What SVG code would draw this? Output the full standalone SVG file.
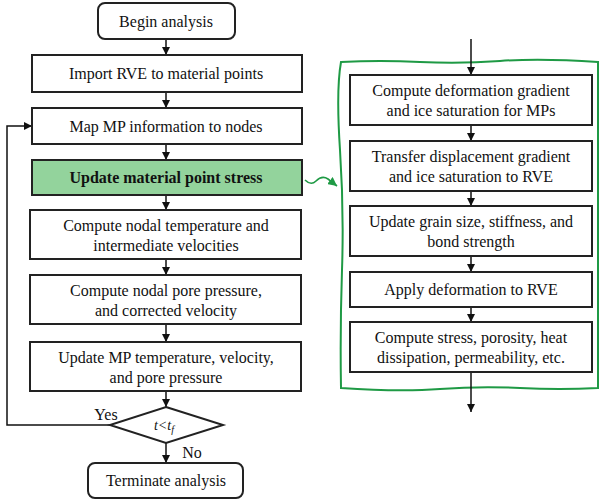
<svg xmlns="http://www.w3.org/2000/svg" width="599" height="502" viewBox="0 0 599 502">
<defs>
<style>
.box{fill:#fff;stroke:#222;stroke-width:2}
.hl{fill:#93d39c;stroke:#222;stroke-width:2}
.ln{stroke:#111;stroke-width:1.5;fill:none}
</style>
<marker id="ah" viewBox="0 0 10 10" refX="10" refY="5" markerWidth="8" markerHeight="8" markerUnits="userSpaceOnUse" orient="auto">
<path d="M0,0 L10,5 L0,10 Z" fill="#111"/>
</marker>
<marker id="gh" viewBox="0 0 10 10" refX="10" refY="5" markerWidth="9" markerHeight="9" markerUnits="userSpaceOnUse" orient="auto">
<path d="M0,0 L10,5 L0,10 Z" fill="#1f9a45"/>
</marker>
</defs>
<rect width="599" height="502" fill="#fff"/>

<g id="frame">
<path d="M341,62 Q380,60 420,62 T500,61 T598,62 L598,388 Q560,390 520,388 T440,389 T341,388 Q340,330 342,270 T340,150 T341,62 Z" fill="none" stroke="#1f9a45" stroke-width="2"/>
</g>

<g id="connectors">
<line class="ln" x1="166" y1="39" x2="166" y2="55" marker-end="url(#ah)"/>
<line class="ln" x1="166" y1="92" x2="166" y2="108" marker-end="url(#ah)"/>
<line class="ln" x1="166" y1="144" x2="166" y2="160" marker-end="url(#ah)"/>
<line class="ln" x1="166" y1="195" x2="166" y2="210" marker-end="url(#ah)"/>
<line class="ln" x1="166" y1="259" x2="166" y2="275" marker-end="url(#ah)"/>
<line class="ln" x1="166" y1="324" x2="166" y2="342" marker-end="url(#ah)"/>
<line class="ln" x1="166" y1="391" x2="166" y2="407" marker-end="url(#ah)"/>
<line class="ln" x1="166" y1="443" x2="166" y2="463" marker-end="url(#ah)"/>
<polyline class="ln" points="110,425 7,425 7,126 32,126" marker-end="url(#ah)"/>
<line class="ln" x1="471" y1="39" x2="471" y2="75" marker-end="url(#ah)"/>
<line class="ln" x1="471" y1="125" x2="471" y2="141" marker-end="url(#ah)"/>
<line class="ln" x1="471" y1="191" x2="471" y2="206" marker-end="url(#ah)"/>
<line class="ln" x1="471" y1="256" x2="471" y2="272" marker-end="url(#ah)"/>
<line class="ln" x1="471" y1="307" x2="471" y2="322" marker-end="url(#ah)"/>
<line class="ln" x1="471" y1="372" x2="471" y2="412" marker-end="url(#ah)"/>
<path d="M305,180 Q311,186 316,181 Q322,175 328,179 L337,186" fill="none" stroke="#1f9a45" stroke-width="1.6" marker-end="url(#gh)"/>
</g>

<g font-family="Liberation Serif, Times New Roman, serif" font-size="16" fill="#111" text-anchor="middle">
<g id="begin"><rect class="box" x="98" y="3" width="137" height="36" rx="7"/><text x="166" y="27">Begin analysis</text></g>
<g id="import"><rect class="box" x="32" y="55" width="270" height="37"/><text x="166" y="79">Import RVE to material points</text></g>
<g id="map"><rect class="box" x="32" y="108" width="270" height="36"/><text x="166" y="132">Map MP information to nodes</text></g>
<g id="update"><rect class="hl" x="32" y="160" width="270" height="35"/><text x="166" y="183" font-weight="bold">Update material point stress</text></g>
<g id="nodaltemp"><rect class="box" x="30" y="210" width="271" height="49"/><text x="166" y="231">Compute nodal temperature and</text><text x="166" y="251">intermediate velocities</text></g>
<g id="porepress"><rect class="box" x="30" y="275" width="271" height="49"/><text x="166" y="296">Compute nodal pore pressure,</text><text x="166" y="316">and corrected velocity</text></g>
<g id="updatemp"><rect class="box" x="30" y="342" width="271" height="49"/><text x="166" y="363">Update MP temperature, velocity,</text><text x="166" y="383">and pore pressure</text></g>
<g id="decision"><polygon points="166,407 223,425 166,443 110,425" fill="#fff" stroke="#222" stroke-width="2"/><text x="164" y="430" font-size="14" font-style="italic">t&lt;t<tspan dy="3" font-size="10">f</tspan></text></g>
<text x="106" y="420">Yes</text>
<text x="192" y="458">No</text>
<g id="terminate"><rect class="box" x="88" y="463" width="155" height="35" rx="7"/><text x="166" y="486">Terminate analysis</text></g>

<g id="r1"><rect class="box" x="350" y="75" width="242" height="50"/><text x="471" y="96">Compute deformation gradient</text><text x="471" y="116">and ice saturation for MPs</text></g>
<g id="r2"><rect class="box" x="350" y="141" width="242" height="50"/><text x="471" y="162">Transfer displacement gradient</text><text x="471" y="182">and ice saturation to RVE</text></g>
<g id="r3"><rect class="box" x="350" y="206" width="242" height="50"/><text x="471" y="227">Update grain size, stiffness, and</text><text x="471" y="247">bond strength</text></g>
<g id="r4"><rect class="box" x="350" y="272" width="242" height="35"/><text x="471" y="295">Apply deformation to RVE</text></g>
<g id="r5"><rect class="box" x="350" y="322" width="242" height="50"/><text x="471" y="343">Compute stress, porosity, heat</text><text x="471" y="363">dissipation, permeability, etc.</text></g>
</g>
</svg>
